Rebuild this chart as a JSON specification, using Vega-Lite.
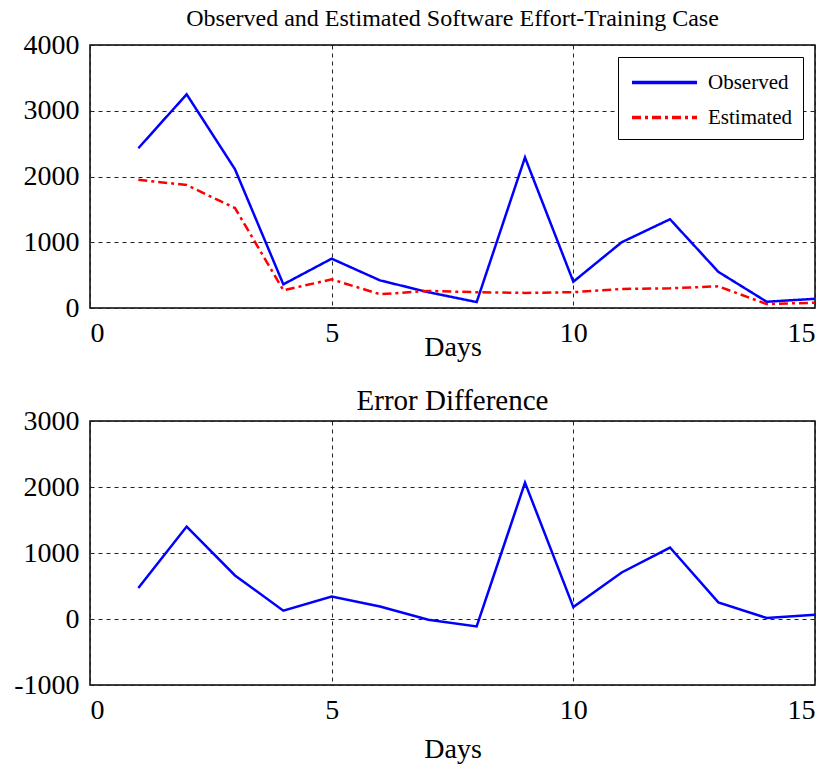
{
  "$schema": "https://vega.github.io/schema/vega-lite/v6.json",
  "padding": {"left": 12, "top": 6, "right": 4, "bottom": 2},
  "background": "white",
  "spacing": 24,
  "config": {
    "font": "Liberation Serif",
    "view": {"stroke": "black", "strokeWidth": 1.5},
    "axis": {
      "labelFont": "Liberation Serif",
      "titleFont": "Liberation Serif",
      "labelFontSize": 28,
      "titleFontSize": 28,
      "labelColor": "black",
      "titleColor": "black",
      "titleFontWeight": "normal",
      "ticks": false,
      "domain": false,
      "gridColor": "#222222",
      "gridDash": [4, 4],
      "gridWidth": 1,
      "gridOpacity": 1,
      "labelPadding": 11
    },
    "title": {"font": "Liberation Serif", "fontWeight": "normal", "color": "black", "frame": "group"}
  },
  "datasets": {
    "effort": [
      {"day": 1, "series": "Observed", "value": 2430},
      {"day": 2, "series": "Observed", "value": 3250},
      {"day": 3, "series": "Observed", "value": 2110},
      {"day": 4, "series": "Observed", "value": 360},
      {"day": 5, "series": "Observed", "value": 750},
      {"day": 6, "series": "Observed", "value": 420},
      {"day": 7, "series": "Observed", "value": 240},
      {"day": 8, "series": "Observed", "value": 90},
      {"day": 9, "series": "Observed", "value": 2290},
      {"day": 10, "series": "Observed", "value": 400},
      {"day": 11, "series": "Observed", "value": 1000},
      {"day": 12, "series": "Observed", "value": 1350},
      {"day": 13, "series": "Observed", "value": 550},
      {"day": 14, "series": "Observed", "value": 95},
      {"day": 15, "series": "Observed", "value": 140},
      {"day": 1, "series": "Estimated", "value": 1950},
      {"day": 2, "series": "Estimated", "value": 1870},
      {"day": 3, "series": "Estimated", "value": 1520},
      {"day": 4, "series": "Estimated", "value": 270},
      {"day": 5, "series": "Estimated", "value": 435},
      {"day": 6, "series": "Estimated", "value": 210},
      {"day": 7, "series": "Estimated", "value": 260},
      {"day": 8, "series": "Estimated", "value": 240},
      {"day": 9, "series": "Estimated", "value": 230},
      {"day": 10, "series": "Estimated", "value": 240},
      {"day": 11, "series": "Estimated", "value": 290},
      {"day": 12, "series": "Estimated", "value": 300},
      {"day": 13, "series": "Estimated", "value": 330},
      {"day": 14, "series": "Estimated", "value": 60},
      {"day": 15, "series": "Estimated", "value": 80}
    ],
    "error": [
      {"day": 1, "error": 470},
      {"day": 2, "error": 1400},
      {"day": 3, "error": 660},
      {"day": 4, "error": 125},
      {"day": 5, "error": 340},
      {"day": 6, "error": 190},
      {"day": 7, "error": -10},
      {"day": 8, "error": -112},
      {"day": 9, "error": 2066},
      {"day": 10, "error": 180},
      {"day": 11, "error": 705},
      {"day": 12, "error": 1083},
      {"day": 13, "error": 251},
      {"day": 14, "error": 15},
      {"day": 15, "error": 65}
    ]
  },
  "vconcat": [
    {
      "width": 725,
      "height": 263,
      "title": {"text": "Observed and Estimated Software Effort-Training Case", "fontSize": 24, "offset": 0},
      "data": {"name": "effort"},
      "mark": {"type": "line", "strokeWidth": 2.5},
      "encoding": {
        "x": {
          "field": "day", "type": "quantitative",
          "scale": {"domain": [0, 15], "nice": false, "zero": false},
          "axis": {"values": [0, 5, 10, 15], "format": "d", "title": "Days", "titlePadding": -14}
        },
        "y": {
          "field": "value", "type": "quantitative",
          "scale": {"domain": [0, 4000], "nice": false},
          "axis": {"values": [0, 1000, 2000, 3000, 4000], "labelExpr": "'' + datum.value", "title": null}
        },
        "color": {
          "field": "series", "type": "nominal",
          "scale": {"domain": ["Observed", "Estimated"], "range": ["#0000ff", "#ff0000"]},
          "legend": {
            "title": null,
            "orient": "top-right",
            "offset": 12,
            "strokeColor": "black",
            "fillColor": "white",
            "padding": 11,
            "labelFont": "Liberation Serif",
            "labelFontSize": 21,
            "labelColor": "black",
            "labelOffset": 29,
            "symbolOffset": 21,
            "rowPadding": 10,
            "symbolType": "M-2.6,0H2.6",
            "symbolSize": 625,
            "symbolStrokeWidth": 3.5
          }
        },
        "strokeDash": {
          "field": "series", "type": "nominal",
          "scale": {"domain": ["Observed", "Estimated"], "range": [[1, 0], [9, 4, 3, 4]]},
          "legend": null
        }
      }
    },
    {
      "width": 725,
      "height": 264,
      "title": {"text": "Error Difference", "fontSize": 29, "offset": -9},
      "data": {"name": "error"},
      "mark": {"type": "line", "strokeWidth": 2.5, "color": "#0000ff"},
      "encoding": {
        "x": {
          "field": "day", "type": "quantitative",
          "scale": {"domain": [0, 15], "nice": false, "zero": false},
          "axis": {"values": [0, 5, 10, 15], "format": "d", "title": "Days", "titlePadding": 11}
        },
        "y": {
          "field": "error", "type": "quantitative",
          "scale": {"domain": [-1000, 3000], "nice": false},
          "axis": {"values": [-1000, 0, 1000, 2000, 3000], "labelExpr": "'' + datum.value", "title": null}
        }
      }
    }
  ]
}
